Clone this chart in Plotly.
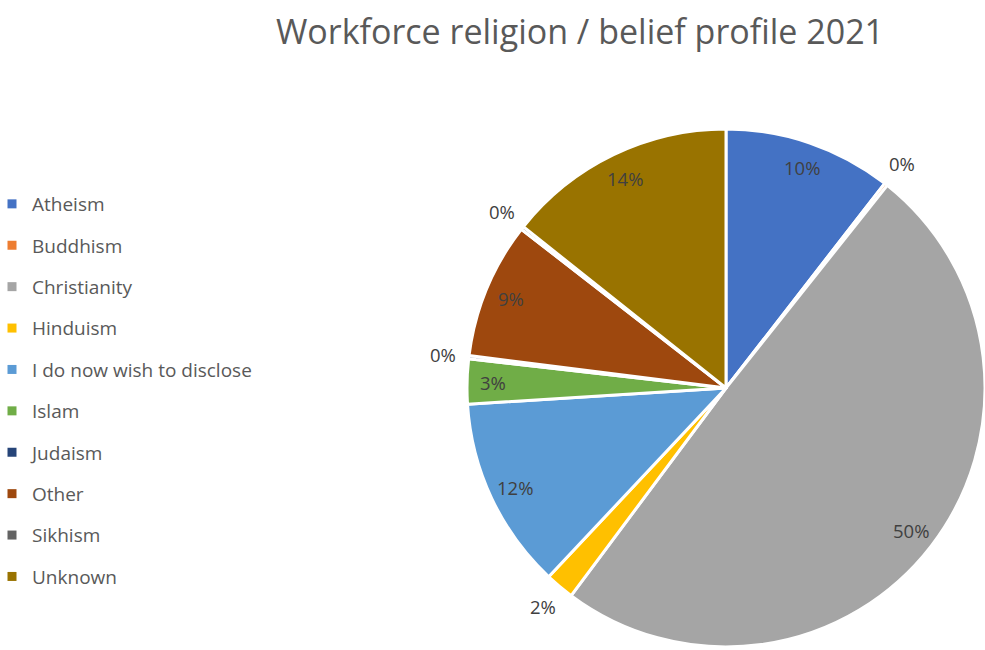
import math
import plotly.graph_objects as go

labels = ["Atheism", "Buddhism", "Christianity", "Hinduism", "I do now wish to disclose",
          "Islam", "Judaism", "Other", "Sikhism", "Unknown"]
values = [10.5, 0.2, 49.5, 1.8, 12.0, 2.8, 0.2, 8.5, 0.2, 14.3]
colors = ["#4472C4", "#ED7D31", "#A5A5A5", "#FFC000", "#5B9BD5",
          "#70AD47", "#264478", "#9E480E", "#636363", "#997300"]
pct_labels = ["10%", "0%", "50%", "2%", "12%", "3%", "0%", "9%", "0%", "14%"]
label_outside = [False, True, False, True, False, False, True, False, True, False]

W, H = 985, 650
# pie geometry (pixels)
dom_x = [467 / W, 1.0]
dom_y = [3 / H, 1 - 129 / H]
cx = (dom_x[0] + dom_x[1]) / 2 * W
cy = H - (dom_y[0] + dom_y[1]) / 2 * H
R = min((dom_x[1] - dom_x[0]) * W, (dom_y[1] - dom_y[0]) * H) / 2

fig = go.Figure()
fig.add_trace(go.Pie(
    labels=labels,
    values=values,
    sort=False,
    direction="clockwise",
    rotation=0,
    marker=dict(colors=colors, line=dict(color="white", width=3)),
    textinfo="none",
    hoverinfo="label+percent",
    showlegend=False,
    domain=dict(x=dom_x, y=dom_y),
))

# legend entries (one per category, same colours as the slices)
for lab, col in zip(labels, colors):
    fig.add_trace(go.Scatter(
        x=[None], y=[None], mode="markers", name=lab, legendgroup=lab,
        marker=dict(symbol="square", size=9, color=col),
        showlegend=True, hoverinfo="skip",
    ))

total = sum(values)
cum = 0.0
annotations = []
for v, t, out in zip(values, pct_labels, label_outside):
    mid = (cum + v / 2) / total * 2 * math.pi
    cum += v
    r = R * (1.1 if out else 0.9)
    px = cx + r * math.sin(mid)
    py = cy - r * math.cos(mid)
    annotations.append(dict(
        x=px / W, y=1 - py / H, xref="paper", yref="paper",
        text=t, showarrow=False, xanchor="center", yanchor="middle",
        font=dict(family="Open Sans", size=18.5, color="#404040"),
    ))

fig.update_layout(
    width=W, height=H,
    margin=dict(l=0, r=0, t=0, b=0, autoexpand=False),
    paper_bgcolor="white",
    plot_bgcolor="white",
    xaxis=dict(visible=False),
    yaxis=dict(visible=False),
    title=dict(text="Workforce religion / belief profile 2021",
               x=580 / W, xanchor="center", y=1 - 32 / H, yanchor="middle",
               font=dict(family="Open Sans", size=34, color="#595959")),
    legend=dict(x=-8 / W, xanchor="left", y=1 - 185 / H, yanchor="top",
                traceorder="grouped", tracegroupgap=13.7,
                font=dict(family="Open Sans", size=19, color="#595959"),
                bgcolor="rgba(0,0,0,0)"),
    annotations=annotations,
)

fig.write_html("out.html")
